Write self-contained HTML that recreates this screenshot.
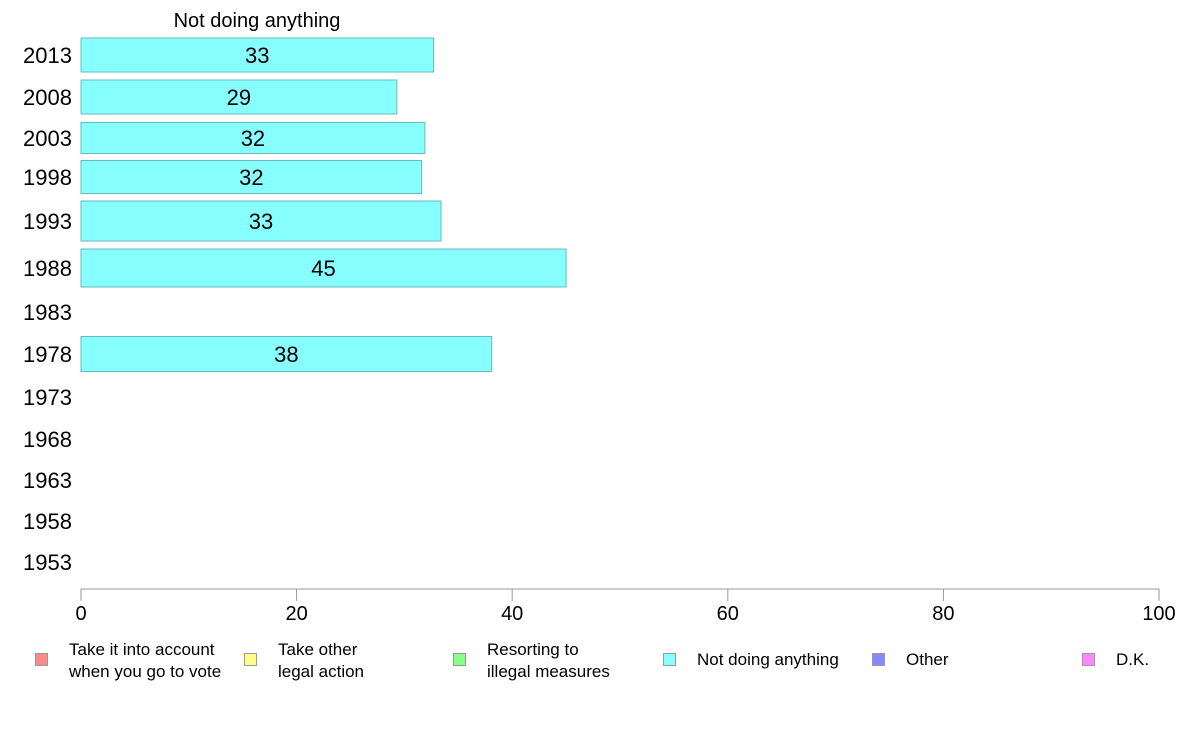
<!DOCTYPE html>
<html><head><meta charset="utf-8"><style>
body{margin:0;background:#fff;font-family:"Liberation Sans",sans-serif;}
svg text{font-family:"Liberation Sans",sans-serif;}
</style></head><body>
<svg id="chart" width="1188" height="736" xmlns="http://www.w3.org/2000/svg">
<text x="257" y="27" font-size="20" text-anchor="middle">Not doing anything</text>
<g id="bars"></g>
<g id="axis"></g>
<g id="legend"></g>
</svg>
<script>
const years=["2013","2008","2003","1998","1993","1988","1983","1978","1973","1968","1963","1958","1953"];
const values=[32.7,29.3,31.9,31.6,33.4,45,null,38.1,null,null,null,null,null];
const valueLabels=["33","29","32","32","33","45","","38","","","","",""];
const ticks=[0,20,40,60,80,100];
const legendLabels=[["Take it into account","when you go to vote"],["Take other","legal action"],["Resorting to","illegal measures"],["Not doing anything"],["Other"],["D.K."]];
const legendColors=["#ff8888","#ffff88","#88ff88","#88ffff","#8888ff","#ff88ff"];
// layout
const rowY=[55,97,138,177,221,268,312,354,397,439,480,521,562];
const rowH=[34,34,31,33,40,38,34,35,34,34,34,34,34];
const legendX=[35,244,453,663,872,1082];
const X=v=>81+v*10.78;
const NS="http://www.w3.org/2000/svg";
function mk(t,a,p){const e=document.createElementNS(NS,t);for(const k in a)e.setAttribute(k,a[k]);p.appendChild(e);return e;}
const bars=document.getElementById('bars');
years.forEach((y,i)=>{
  const t=mk('text',{x:72,y:rowY[i]+8,'font-size':22,'text-anchor':'end'},bars);
  t.textContent=y;
  
  
  if(values[i]!=null){
    const r=mk('rect',{x:X(0),y:rowY[i]-rowH[i]/2,width:X(values[i])-X(0),height:rowH[i],fill:'#88ffff',stroke:'#66bbbb','stroke-width':1},bars);
    
    
    const l=mk('text',{x:X(values[i]/2),y:rowY[i]+8,'font-size':22,'text-anchor':'middle'},bars);
    l.textContent=valueLabels[i];
    
    
  }
});
const ax=document.getElementById('axis');
const line=mk('line',{x1:X(0),x2:X(100),y1:589,y2:589,stroke:'#999','stroke-width':1},ax);


ticks.forEach(v=>{
  const tk=mk('line',{x1:X(v),x2:X(v),y1:589,y2:601,stroke:'#999','stroke-width':1},ax);
  
  
  const t=mk('text',{x:X(v),y:620,'font-size':20,'text-anchor':'middle'},ax);
  t.textContent=v;
  
  
});
const lg=document.getElementById('legend');
legendLabels.forEach((lab,i)=>{
  const g=mk('g',{},lg);
  
  
  mk('rect',{x:legendX[i]+0.5,y:653.5,width:12,height:12,fill:legendColors[i],stroke:'#999','stroke-width':1},g);
  lab.forEach((s,j)=>{
    const yy=lab.length===1?665:(655+j*22);
    const t=mk('text',{x:legendX[i]+34,y:yy,'font-size':17},g);
    t.textContent=s;
  });
});
</script>
</body></html>
